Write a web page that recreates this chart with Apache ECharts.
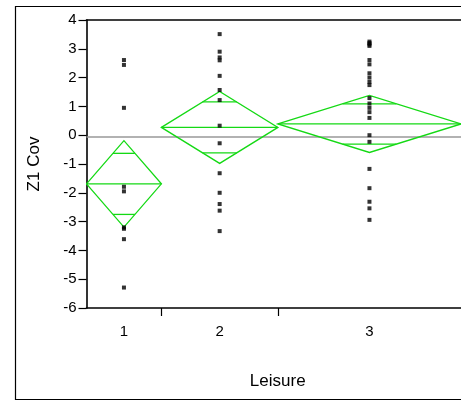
<!DOCTYPE html>
<html>
<head>
<meta charset="utf-8">
<script src="https://cdn.jsdelivr.net/npm/echarts@6/dist/echarts.min.js"></script>
<style>html,body{margin:0;padding:0;background:#fff;}#c{width:461px;height:402px;}</style>
</head>
<body>
<div id="c"></div>
<script>
// ---- data ----
const categories = ['1', '2', '3'];
const groupCounts = [9, 14, 22];
const groupMeans = [-1.69, 0.27, 0.39];
const groupCIHalf = [1.5, 1.25, 0.99];
const grandMean = -0.06;
const points1 = [2.61, 2.44, 0.95, -1.79, -1.95, -3.2, -3.25, -3.61, -5.29];
const points2 = [3.51, 2.9, 2.7, 2.6, 2.06, 1.57, 1.22, 0.33, -0.28, -1.32, -2.0, -2.39, -2.62, -3.33];
const points3 = [3.25, 3.2, 3.15, 3.1, 2.61, 2.46, 2.15, 2.0, 1.85, 1.74, 1.29, 1.1, 0.95, 0.8, 0.6, 0.0, -0.23, -1.17, -1.84, -2.31, -2.54, -2.94];
const groupPoints = [points1, points2, points3];
const yMin = -6, yMax = 4, yStep = 1;

// ---- derived positions (in count units along x) ----
const starts = [], ends = [], centers = [];
let acc = 0;
groupCounts.forEach(n => { starts.push(acc); centers.push(acc + n / 2); acc += n; ends.push(acc); });
const total = acc;
const boundaries = ends.slice(0, -1);

const diamondData = groupCounts.map((n, i) => [starts[i], ends[i], groupMeans[i], groupCIHalf[i]]);
const scatterData = [];
groupPoints.forEach((arr, i) => arr.forEach(v => scatterData.push([centers[i], v])));

const GREEN = '#14D914';
const FONT = 'Liberation Sans, Arial, sans-serif';
const chart = echarts.init(document.getElementById('c'), null, { renderer: 'canvas' });
chart.setOption({
  animation: false,
  backgroundColor: '#fff',
  textStyle: { fontFamily: FONT },
  graphic: [{
    type: 'rect', z: 100, silent: true,
    shape: { x: 15.5, y: 6.5, width: 460, height: 393 },
    style: { fill: 'none', stroke: '#000', lineWidth: 1.2 }
  }],
  grid: { left: 86.5, top: 20, width: 375, bottom: 94 },
  xAxis: [{
    type: 'value', min: 0, max: total, position: 'bottom',
    name: 'Leisure', nameLocation: 'middle', nameGap: 65,
    nameTextStyle: { color: '#000', fontSize: 17, fontFamily: FONT, padding: [0, 0, 0, 8] },
    axisLine: { show: true, onZero: false, lineStyle: { color: '#000', width: 1.6 } },
    axisTick: { show: true, length: 8, customValues: boundaries, lineStyle: { color: '#000', width: 1.2 } },
    axisLabel: {
      customValues: centers, margin: 16, color: '#000', fontSize: 15,
      formatter: v => { const k = centers.findIndex(c => Math.abs(c - v) < 1e-6); return k >= 0 ? categories[k] : ''; }
    },
    splitLine: { show: false }
  }, {
    type: 'value', min: 0, max: total, position: 'top',
    axisLine: { show: true, onZero: false, lineStyle: { color: '#000', width: 1.6 } },
    axisTick: { show: false }, axisLabel: { show: false }, splitLine: { show: false }
  }],
  yAxis: {
    type: 'value', min: yMin, max: yMax, interval: yStep,
    name: 'Z1 Cov', nameLocation: 'middle', nameGap: 44,
    nameTextStyle: { color: '#000', fontSize: 17, fontFamily: FONT },
    axisLine: { show: true, onZero: false, lineStyle: { color: '#000', width: 1.6 } },
    axisTick: { show: true, length: 8, lineStyle: { color: '#000', width: 1.2 } },
    axisLabel: { color: '#000', fontSize: 15, margin: 10 },
    splitLine: { show: false }
  },
  series: [{
    type: 'line', data: [[0, grandMean], [total, grandMean]],
    symbol: 'none', lineStyle: { color: '#999', width: 1.5 }, z: 1, silent: true
  }, {
    type: 'custom', data: diamondData, z: 2, clip: true, silent: true,
    renderItem: (params, api) => {
      const s = api.value(0), e = api.value(1), m = api.value(2), h = api.value(3);
      const c = (s + e) / 2, w = e - s;
      const L = api.coord([s, m]), R = api.coord([e, m]);
      const T = api.coord([c, m + h]), B = api.coord([c, m - h]);
      const k = 1 / Math.SQRT2;
      const dx = (w / 2) * (1 - k);
      const st = { stroke: GREEN, lineWidth: 1.3, fill: null };
      const o1a = api.coord([c - dx, m + h * k]), o1b = api.coord([c + dx, m + h * k]);
      const o2a = api.coord([c - dx, m - h * k]), o2b = api.coord([c + dx, m - h * k]);
      return {
        type: 'group',
        children: [
          { type: 'polygon', shape: { points: [L, T, R, B] }, style: st },
          { type: 'line', shape: { x1: L[0], y1: L[1], x2: R[0], y2: R[1] }, style: st },
          { type: 'line', shape: { x1: o1a[0], y1: o1a[1], x2: o1b[0], y2: o1b[1] }, style: st },
          { type: 'line', shape: { x1: o2a[0], y1: o2a[1], x2: o2b[0], y2: o2b[1] }, style: st }
        ]
      };
    }
  }, {
    type: 'scatter', data: scatterData, symbol: 'rect', symbolSize: 4,
    itemStyle: { color: '#000' }, z: 3, silent: true
  }]
});
</script>
</body>
</html>
